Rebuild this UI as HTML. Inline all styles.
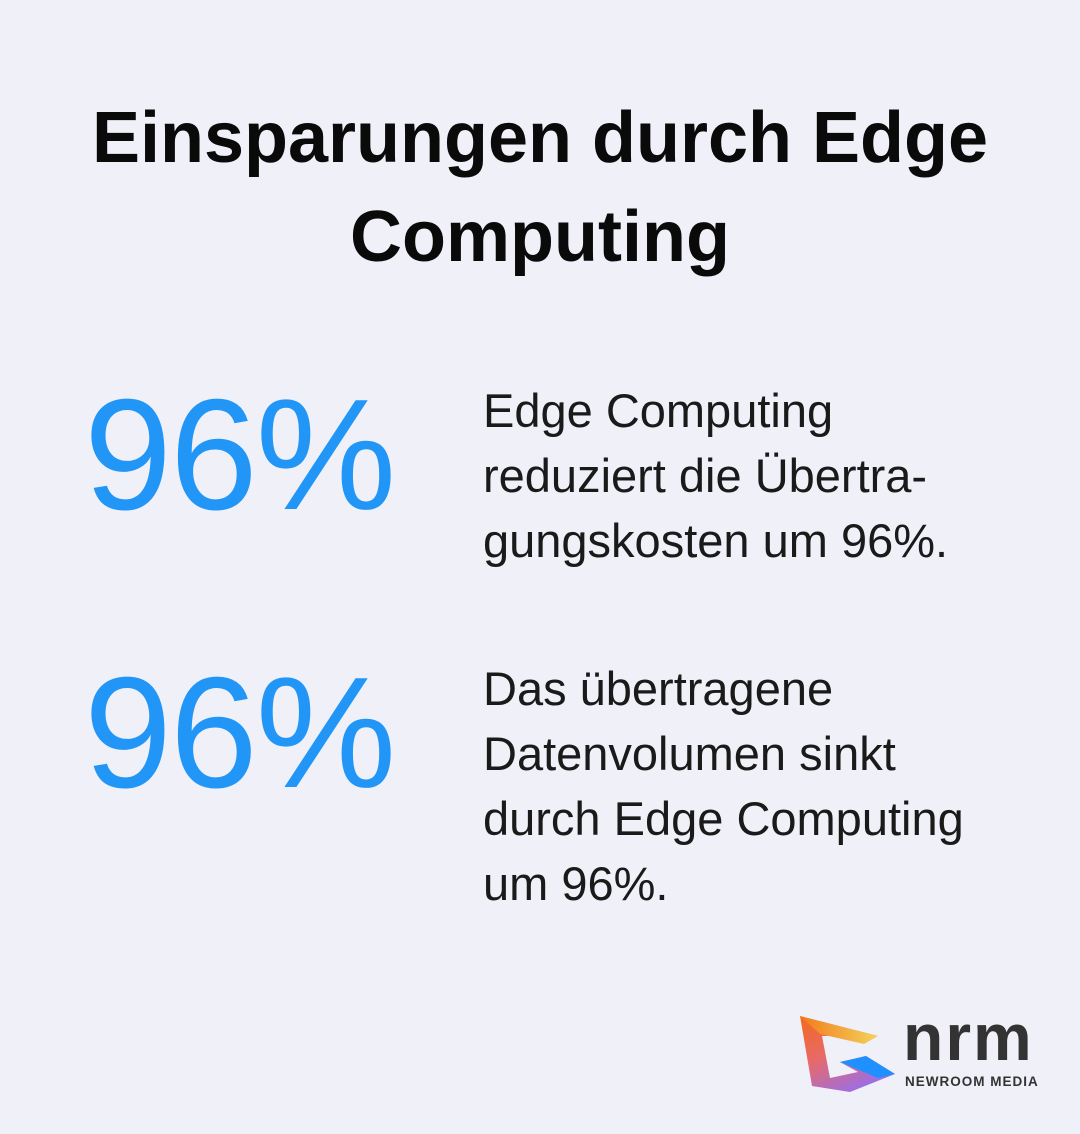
<!DOCTYPE html>
<html><head><meta charset="utf-8"><style>
body{margin:0;width:1080px;height:1134px;background:#f0f0f8;position:relative;overflow:hidden;font-family:"Liberation Sans",sans-serif;}
.t{position:absolute;left:0;width:1080px;text-align:center;font-weight:bold;font-size:72px;color:#0a0a0a;line-height:99px;top:89px;}
.n{position:absolute;left:84px;font-size:158px;color:#2196f7;line-height:1;letter-spacing:-2px;}
.p{position:absolute;left:483px;font-size:47px;color:#1a1a1a;line-height:65px;}
</style></head><body>
<div class="t">Einsparungen durch Edge<br>Computing</div>
<div class="n" style="top:376px">96%</div>
<div class="p" style="top:378px">Edge Computing<br>reduziert die Übertra-<br>gungskosten um 96%.</div>
<div class="n" style="top:654px">96%</div>
<div class="p" style="top:656px">Das übertragene<br>Datenvolumen sinkt<br>durch Edge Computing<br>um 96%.</div>
<svg style="position:absolute;left:798px;top:1012px" width="100" height="84" viewBox="0 0 100 84">
<defs><linearGradient id="g" x1="0" y1="0" x2="0.6" y2="1"><stop offset="0" stop-color="#f26b1d"/><stop offset="0.5" stop-color="#e76a6a"/><stop offset="1" stop-color="#9a6ee8"/></linearGradient>
<linearGradient id="h" x1="0" y1="0" x2="1" y2="0"><stop offset="0" stop-color="#f27a1d"/><stop offset="1" stop-color="#f2d35a"/></linearGradient></defs>
<polygon points="2,4 80,24 24,24 32,66 60,60 42,50 68,44 97,62 52,80 14,74" fill="url(#g)"/>
<polygon points="2,4 80,24 66,32 22,22" fill="url(#h)"/>
<polygon points="42,50 68,44 97,62 80,66" fill="#1e90ff"/>
</svg>
<div style="position:absolute;left:903px;top:1004px;font-size:66px;font-weight:bold;color:#333;line-height:1;letter-spacing:2px">nrm</div>
<div style="position:absolute;left:905px;top:1074px;font-size:13.5px;font-weight:bold;color:#333;letter-spacing:1px">NEWROOM MEDIA</div>
</body></html>
